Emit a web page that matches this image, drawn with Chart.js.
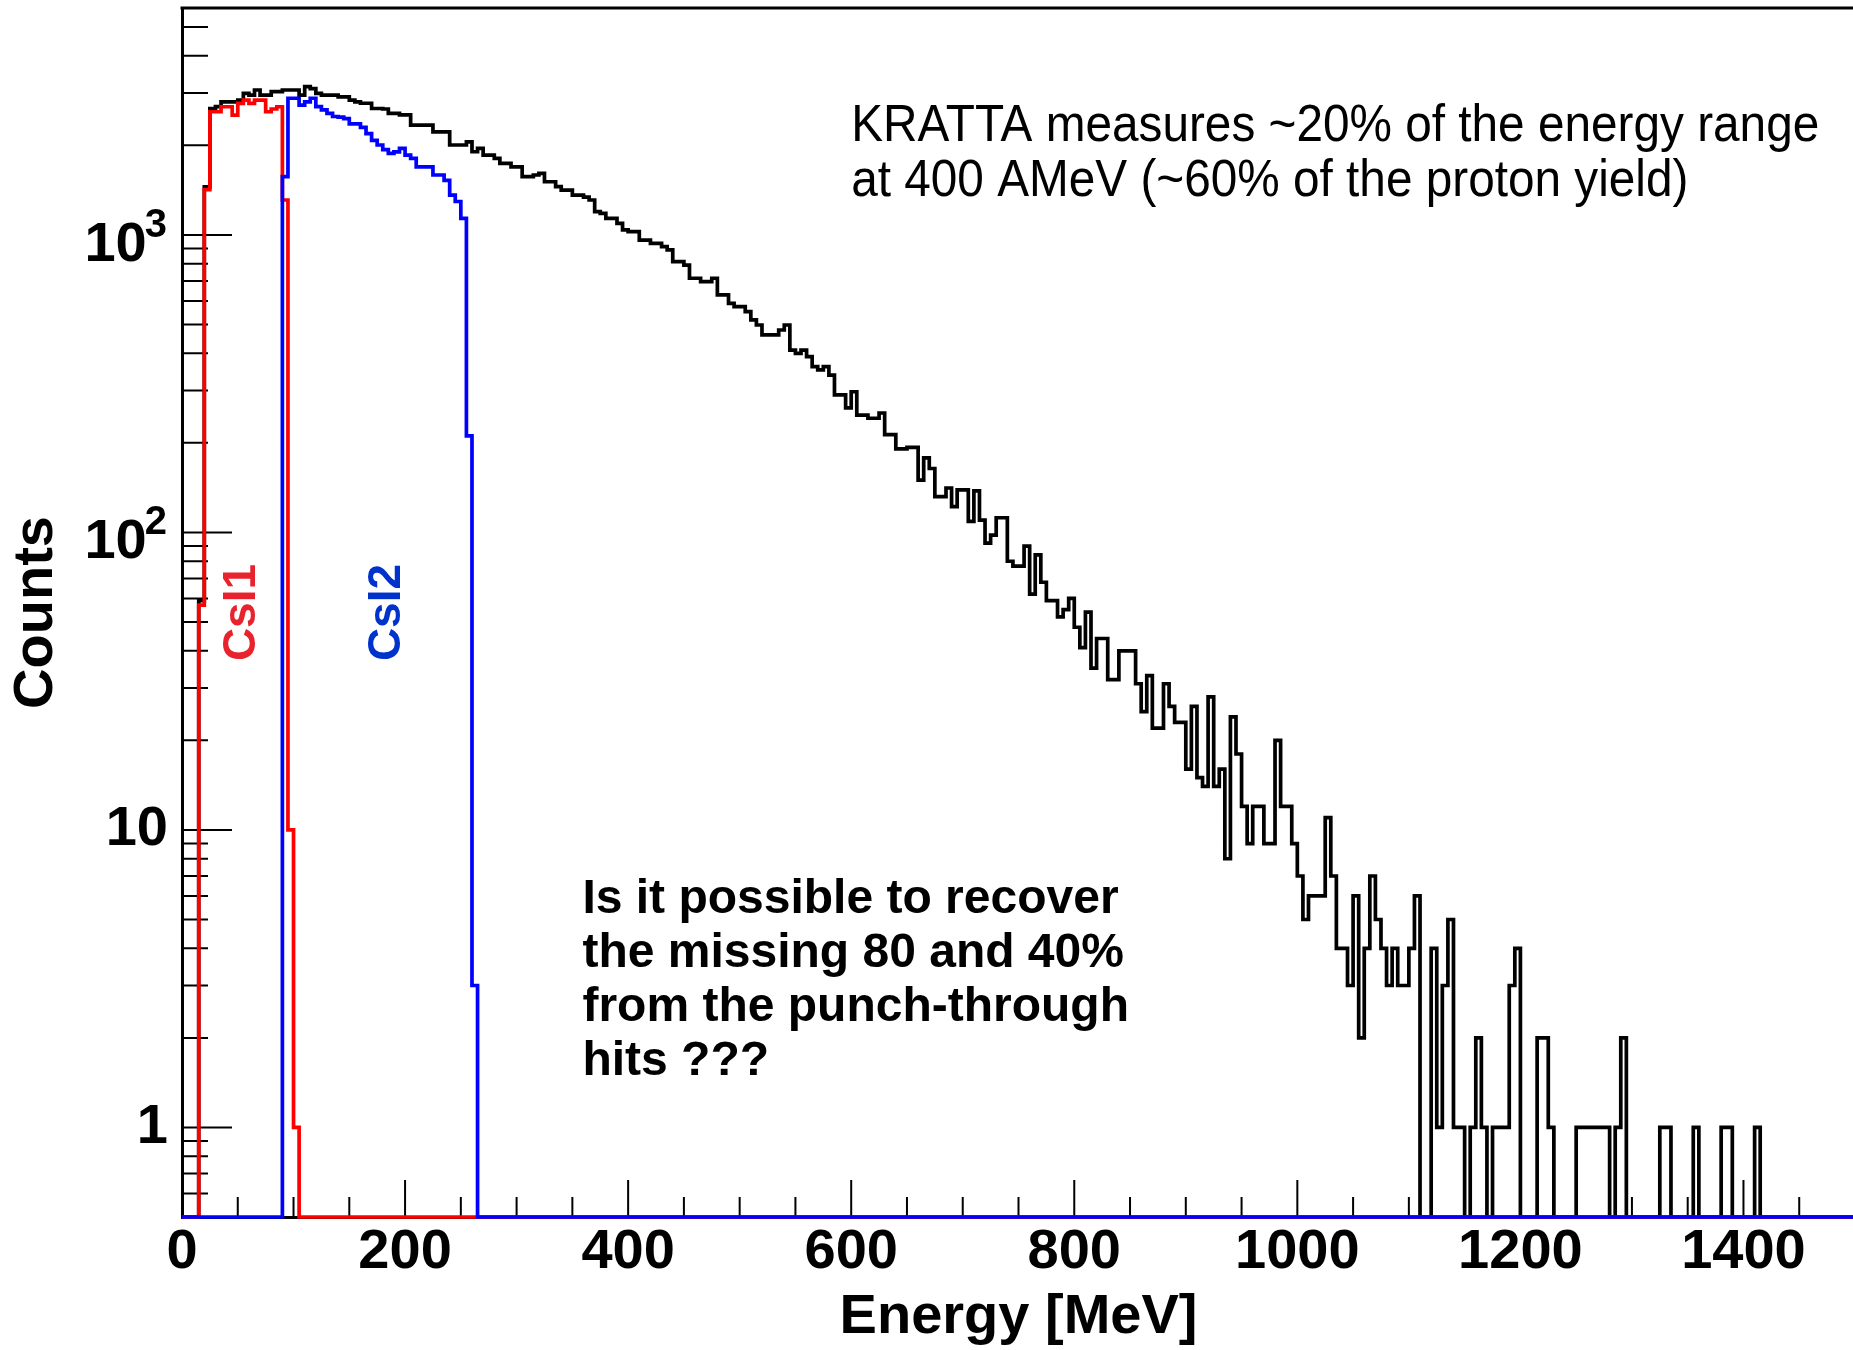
<!DOCTYPE html>
<html>
<head>
<meta charset="utf-8">
<script src="https://cdn.jsdelivr.net/npm/chart.js@4.4.1/dist/chart.umd.min.js"></script>
<style>
  html, body { margin: 0; padding: 0; overflow: hidden; background: #ffffff; }
  #wrap { width: 1856px; height: 1350px; }
</style>
</head>
<body>
<div id="wrap"><canvas id="c" width="1856" height="1350"></canvas></div>
<script>
// ---------------- data ----------------
const BIN_WIDTH = 5;          // MeV per bin
const X_MIN = 0, X_MAX = 1500;
const Y_MIN = 0.5, Y_MAX = 5790;

// all hits (black), bins of 5 MeV starting at 0 MeV
const totalCounts = [
  0,0,0,59,1450,2660,2700,2800,2800,2800,
  2840,2990,2950,3070,2950,2950,3030,3030,3070,3070,
  3070,2950,3150,3100,2990,2950,2950,2950,2910,2910,
  2840,2800,2770,2770,2660,2660,2650,2560,2560,2530,
  2530,2340,2340,2340,2340,2220,2220,2220,2005,2005,
  2005,2056,1903,1954,1855,1855,1808,1740,1740,1694,
  1694,1569,1569,1590,1610,1509,1509,1452,1415,1415,
  1361,1361,1340,1310,1197,1182,1137,1137,1094,1039,
  1025,1025,961,961,937,937,913,890,813,813,
  792,715,715,697,697,715,629,629,589,574,
  574,552,518,498,461,461,461,479,498,410,
  400,410,390,361,352,361,338,290,290,262,
  297,248,248,242,242,252,213,213,191,191,
  193,193,150,178,164,132,132,141,122,139,
  139,109,138,110,92,98,112,112,80,77,
  77,90,62,84,68,59,59,52,55,60,
  48,41,54,35,44,44,32,32,40,40,
  40,31,25,33,22,22,31,26,23,23,
  16,26,15,14,28,14,16,8,24,18,
  12,9,12,12,9,9,20,12,12,9,
  7,5,6,6,6,11,7,4,4,3,
  6,2,4,7,5,4,3,4,3,3,
  4,6,0,0,4,1,3,5,1,1,
  0,1,2,1,0,1,1,1,3,4,
  0,0,0,2,2,1,0,0,0,0,
  1,1,1,1,1,1,0,1,2,0,
  0,0,0,0,0,1,1,0,0,0,
  0,1,0,0,0,0,1,1,0,0,
  0,0,1,0,0,0,0,0,0,0,
  0,0,0,0,0,0,0,0,0,0
];

// CsI1 (red)
const csi1Counts = [
  0,0,0,57,1420,2594,2594,2696,2696,2528,
  2767,2840,2767,2840,2840,2594,2650,2696,1310,10,
  1,0
];

// CsI2 (blue)
const csi2Counts = [
  0,0,0,0,0,0,0,0,0,0,
  0,0,0,0,0,0,0,0,1570,2880,
  2880,2730,2800,2880,2700,2630,2560,2500,2490,2460,
  2360,2360,2300,2190,2080,2005,1934,1880,1900,1954,
  1855,1808,1694,1694,1694,1590,1590,1524,1361,1295,
  1137,211,3,0
];

const seriesNames = ['CsI2', 'CsI1', 'all hits'];
const xLabelValues = [0, 200, 400, 600, 800, 1000, 1200, 1400];
const xTickLabels = ['0', '200', '400', '600', '800', '1000', '1200', '1400'];
const yLabelValues = [1, 10, 100, 1000];
const yTickBase = ['1', '10', '10', '10'];
const yTickExponent = ['', '', '2', '3'];

// ---------------- styling / layout ----------------
const X_MAJOR_STEP = 200, X_MINOR_STEP = 50;
const X_MAJOR_LEN = 37, X_MINOR_LEN = 20;
const Y_MAJOR_LEN = 50, Y_MINOR_LEN = 26;
const FONT_FAMILY = '"Liberation Sans", Arial, Helvetica, sans-serif';

const notes = [
  { lines: ['KRATTA measures ~20% of the energy range', 'at 400 AMeV (~60% of the proton yield)'],
    x: 600, y: 2069, gap: 55, font: '52px ' + FONT_FAMILY, squeeze: 0.918, color: '#000000' },
  { lines: ['Is it possible to recover', 'the missing 80 and 40%', 'from the punch-through', 'hits ???'],
    x: 359, y: 5.25, gap: 54, font: 'bold 48px ' + FONT_FAMILY, squeeze: 1, color: '#000000' }
];
const detectorLabels = [
  { text: 'CsI1', x: 65.5, y: 53.8, font: 'bold 46px ' + FONT_FAMILY, color: '#e8232d' },
  { text: 'CsI2', x: 195.5, y: 53.8, font: 'bold 46px ' + FONT_FAMILY, color: '#0033cc' }
];

function histogramPoints(counts) {
  const pts = counts.map((c, i) => ({ x: X_MIN + i * BIN_WIDTH, y: c }));
  pts.push({ x: X_MAX, y: counts[counts.length - 1] });
  return pts;
}

const frameAndTicks = {
  id: 'frameAndTicks',
  beforeDatasetsDraw(chart) {
    const { ctx, chartArea: a, scales } = chart;
    const xs = scales.x, ys = scales.y;
    ctx.save();
    ctx.strokeStyle = '#000000';
    ctx.lineWidth = 2;
    ctx.beginPath();
    for (let v = X_MIN; v <= X_MAX; v += X_MINOR_STEP) {
      const px = xs.getPixelForValue(v);
      const len = (v % X_MAJOR_STEP === 0) ? X_MAJOR_LEN : X_MINOR_LEN;
      ctx.moveTo(px, a.bottom);
      ctx.lineTo(px, a.bottom - len);
    }
    for (const decade of [0.1, 1, 10, 100, 1000]) {
      for (let m = 1; m <= 9; m++) {
        const v = decade * m;
        if (v <= Y_MIN * 1.0001 || v > Y_MAX) continue;
        const py = ys.getPixelForValue(v);
        const len = (m === 1) ? Y_MAJOR_LEN : Y_MINOR_LEN;
        ctx.moveTo(a.left, py);
        ctx.lineTo(a.left + len, py);
      }
    }
    ctx.stroke();
    ctx.lineWidth = 3;
    ctx.beginPath();
    ctx.moveTo(a.left - 1.5, a.top);
    ctx.lineTo(a.right + 3, a.top);
    ctx.stroke();

    // y tick labels with superscript exponents
    ctx.fillStyle = '#000000';
    ctx.textAlign = 'right';
    const rightEdge = a.left - 14;
    yLabelValues.forEach((v, k) => {
      const py = ys.getPixelForValue(v);
      if (!yTickExponent[k]) {
        ctx.font = 'bold 56px ' + FONT_FAMILY;
        ctx.textBaseline = 'middle';
        ctx.fillText(yTickBase[k], rightEdge, py);
      } else {
        ctx.textBaseline = 'alphabetic';
        ctx.font = 'bold 40px ' + FONT_FAMILY;
        const ew = ctx.measureText(yTickExponent[k]).width;
        ctx.fillText(yTickExponent[k], rightEdge - 1, py + 2);
        ctx.font = 'bold 56px ' + FONT_FAMILY;
        ctx.fillText(yTickBase[k], rightEdge - ew + 1, py + 26);
      }
    });
    ctx.restore();
  }
};

const annotations = {
  id: 'annotations',
  afterDraw(chart) {
    const { ctx, scales } = chart;
    const xs = scales.x, ys = scales.y;
    ctx.save();
    for (const n of notes) {
      ctx.font = n.font;
      ctx.fillStyle = n.color;
      ctx.textAlign = 'left';
      ctx.textBaseline = 'alphabetic';
      const px = xs.getPixelForValue(n.x), py = ys.getPixelForValue(n.y);
      n.lines.forEach((line, k) => {
        ctx.save();
        ctx.translate(px, py + k * n.gap);
        ctx.scale(n.squeeze, 1);
        ctx.fillText(line, 0, 0);
        ctx.restore();
      });
    }
    for (const s of detectorLabels) {
      ctx.save();
      ctx.translate(xs.getPixelForValue(s.x), ys.getPixelForValue(s.y));
      ctx.rotate(-Math.PI / 2);
      ctx.font = s.font;
      ctx.fillStyle = s.color;
      ctx.textAlign = 'center';
      ctx.textBaseline = 'alphabetic';
      ctx.fillText(s.text, 0, 0);
      ctx.restore();
    }
    ctx.restore();
  }
};

const lineStyle = { borderWidth: 3.7, stepped: true, pointRadius: 0, fill: false, tension: 0, clip: 4 };

new Chart(document.getElementById('c'), {
  type: 'line',
  data: {
    datasets: [
      Object.assign({ label: seriesNames[0], data: histogramPoints(csi2Counts), borderColor: '#0000ff' }, lineStyle),
      Object.assign({ label: seriesNames[1], data: histogramPoints(csi1Counts), borderColor: '#ff0000' }, lineStyle),
      Object.assign({ label: seriesNames[2], data: histogramPoints(totalCounts), borderColor: '#000000' }, lineStyle)
    ]
  },
  options: {
    responsive: false,
    animation: false,
    devicePixelRatio: 1,
    parsing: false,
    layout: { padding: { top: 8, right: 1, bottom: 0, left: 0 } },
    plugins: { legend: { display: false }, tooltip: { enabled: false } },
    scales: {
      x: {
        type: 'linear',
        position: 'bottom',
        min: X_MIN, max: X_MAX,
        bounds: 'data',
        afterBuildTicks: (scale) => { scale.ticks = xLabelValues.map(v => ({ value: v })); },
        afterFit: (scale) => { scale.height = 133; scale.paddingLeft = 0; scale.paddingRight = 0; },
        ticks: {
          autoSkip: false, maxRotation: 0, minRotation: 0, padding: 2,
          color: '#000000',
          font: { family: FONT_FAMILY, size: 56, weight: 'bold', lineHeight: 1.2 },
          callback: (v) => { const k = xLabelValues.indexOf(v); return k >= 0 ? xTickLabels[k] : ''; }
        },
        grid: { display: false, drawTicks: false, drawOnChartArea: false },
        border: { display: true, color: '#000000', width: 3 },
        title: {
          display: true, text: 'Energy [MeV]', color: '#000000',
          font: { family: FONT_FAMILY, size: 56, weight: 'bold', lineHeight: 1.0 },
          padding: { top: 0, bottom: 4 }
        }
      },
      y: {
        type: 'logarithmic',
        position: 'left',
        min: Y_MIN, max: Y_MAX,
        bounds: 'data',
        afterBuildTicks: (scale) => { scale.ticks = yLabelValues.map(v => ({ value: v })); },
        afterFit: (scale) => { scale.width = 182; scale.paddingTop = 0; scale.paddingBottom = 0; },
        ticks: { display: false },
        grid: { display: false, drawTicks: false, drawOnChartArea: false },
        border: { display: true, color: '#000000', width: 3 },
        title: {
          display: true, text: 'Counts', color: '#000000',
          font: { family: FONT_FAMILY, size: 56, weight: 'bold', lineHeight: 1.2 },
          padding: { top: 3, bottom: 0 }
        }
      }
    }
  },
  plugins: [frameAndTicks, annotations]
});
</script>
</body>
</html>
